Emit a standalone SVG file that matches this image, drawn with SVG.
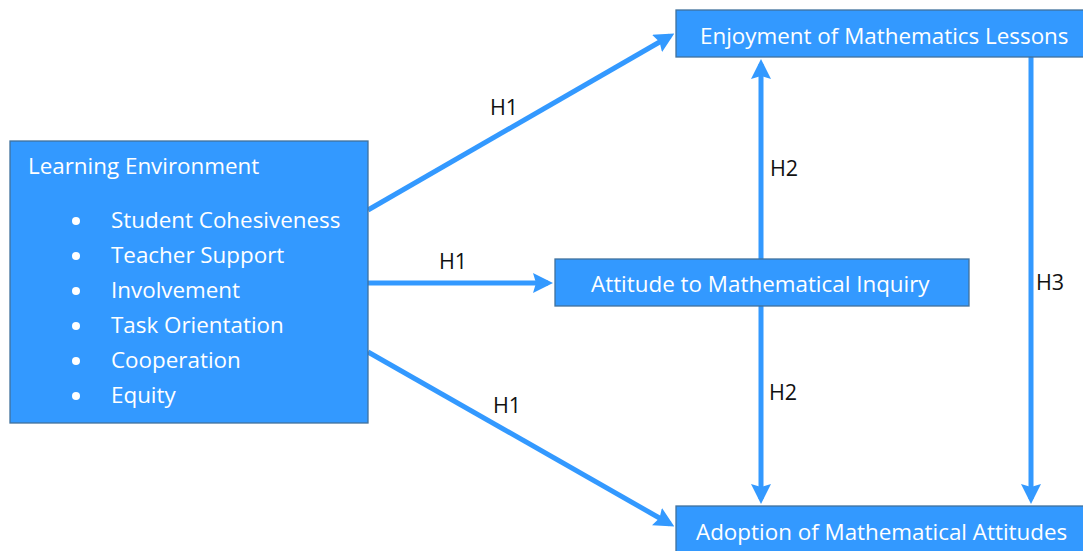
<svg xmlns="http://www.w3.org/2000/svg" width="1083" height="551" viewBox="0 0 1083 551">
<style>
.box{fill:#3399ff;stroke:#41719c;stroke-width:1.3}
.t{font-family:"Open Sans","Noto Sans","Liberation Sans",sans-serif;font-size:22.4px;fill:#ffffff}
.lbl{font-family:"Open Sans","Noto Sans","Liberation Sans",sans-serif;font-size:21.5px;fill:#111111}
.c{stroke:#3399ff;stroke-width:5;fill:none;marker-end:url(#ah)}
</style>
<defs>
<marker id="ah" markerWidth="4" markerHeight="4" refX="3" refY="2" orient="auto" markerUnits="strokeWidth">
<path d="M0,0 L4,2 L0,4 L0.6,2 Z" fill="#3399ff"/>
</marker>
</defs>
<rect width="1083" height="551" fill="#ffffff"/>
<g id="connectors">
<line class="c" x1="368" y1="210" x2="670" y2="36"/>
<line class="c" x1="368" y1="283" x2="548" y2="283"/>
<line class="c" x1="368" y1="352" x2="670" y2="524"/>
<line class="c" x1="761" y1="259" x2="761" y2="64"/>
<line class="c" x1="761" y1="306" x2="761" y2="499"/>
<line class="c" x1="1031" y1="57" x2="1031" y2="499"/>
<text class="lbl" x="490" y="115">H1</text>
<text class="lbl" x="439" y="269">H1</text>
<text class="lbl" x="493" y="413">H1</text>
<text class="lbl" x="770" y="176">H2</text>
<text class="lbl" x="769" y="400">H2</text>
<text class="lbl" x="1036" y="290">H3</text>
</g>
<g id="learning-environment">
<rect class="box" x="10" y="141" width="358" height="282"/>
<text class="t" x="28" y="174">Learning Environment</text>
<g fill="#ffffff">
<circle cx="76" cy="221" r="4"/>
<circle cx="76" cy="256" r="4"/>
<circle cx="76" cy="291" r="4"/>
<circle cx="76" cy="326" r="4"/>
<circle cx="76" cy="361" r="4"/>
<circle cx="76" cy="396" r="4"/>
</g>
<text class="t" x="111" y="228">Student Cohesiveness</text>
<text class="t" x="111" y="263">Teacher Support</text>
<text class="t" x="111" y="298">Involvement</text>
<text class="t" x="111" y="333">Task Orientation</text>
<text class="t" x="111" y="368">Cooperation</text>
<text class="t" x="111" y="403">Equity</text>
</g>
<g id="enjoyment">
<rect class="box" x="676" y="10" width="420" height="47"/>
<text class="t" x="700" y="44">Enjoyment of Mathematics Lessons</text>
</g>
<g id="attitude-inquiry">
<rect class="box" x="555" y="259" width="414" height="47"/>
<text class="t" x="591" y="292">Attitude to Mathematical Inquiry</text>
</g>
<g id="adoption">
<rect class="box" x="676" y="506" width="420" height="60"/>
<text class="t" x="696" y="540">Adoption of Mathematical Attitudes</text>
</g>
</svg>
